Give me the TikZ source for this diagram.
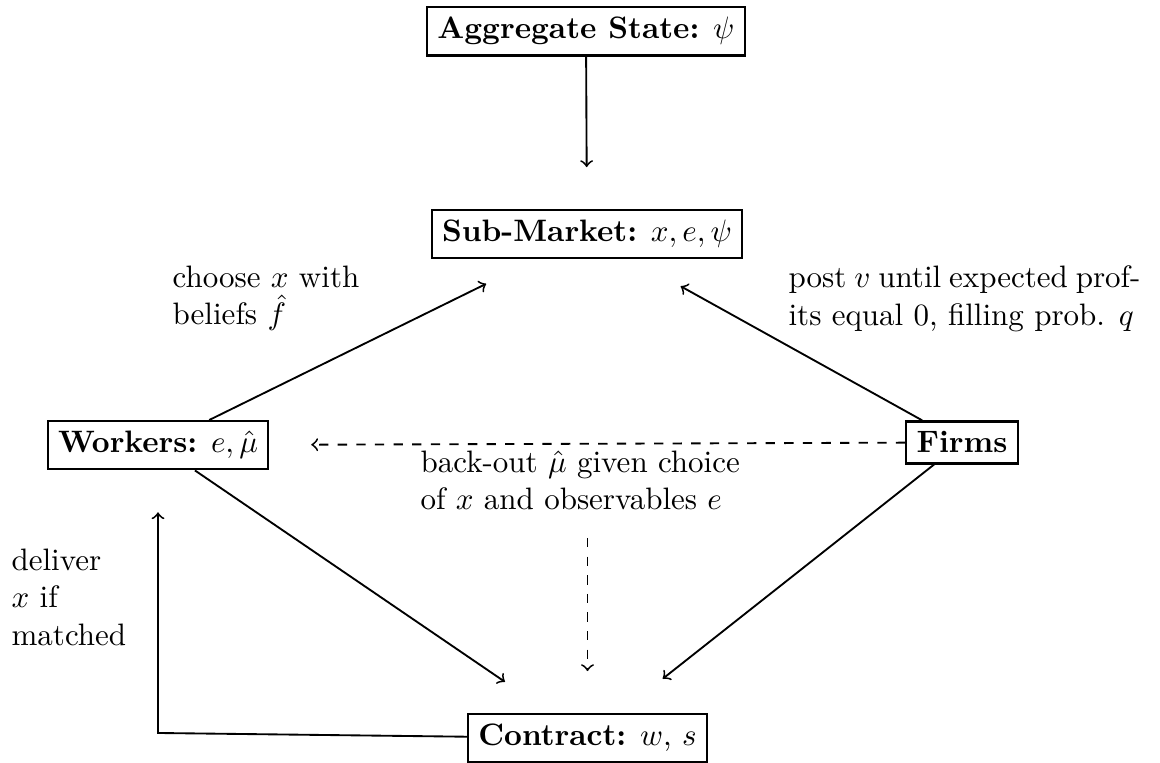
\documentclass[tikz,border=0pt]{standalone}
\begin{document}
\begin{tikzpicture}[x=0.3225pt,y=-0.3225pt,
  box/.style={draw,line width=0.7pt,inner sep=3.33pt,anchor=base},
  lbl/.style={inner sep=0pt,align=left,anchor=north west},
  arr/.style={->,line width=0.6pt},
  sh/.style={shorten >=13.5pt},
  shd/.style={shorten >=17.8pt}]
\useasboundingbox (0,0) rectangle (1160,763);
% nodes
\node[box] (agg) at (586,39) {\textbf{Aggregate State:} $\psi$};
\node[box] (sub) at (587,242) {\textbf{Sub-Market:} $x, e, \psi$};
\node[box] (wrk) at (158,453) {\textbf{Workers:} $e, \hat\mu$};
\node[box] (frm) at (962,453) {\textbf{Firms}};
\node[box] (con) at (587.5,746) {\textbf{Contract:} $w$, $s$};
% labels
\node[lbl] (lw) at (172,265.5) {choose $x$ with\\beliefs $\hat f$};
\node[lbl,text width=113.5pt,align=justify] (lf) at (788,265.5) {post $v$ until expected prof-\linebreak its equal 0, filling prob. $q$};
\node[lbl] (lb) at (420,450.5) {back-out $\hat\mu$ given choice\\of $x$ and observables $e$};
\node[lbl] (ld) at (11,548.5) {deliver\\$x$ if\\matched};
% helper coordinates
\coordinate (d) at (587.5,538);
\coordinate (p) at (158,733);
% connectors
\draw[arr,sh] (agg) -- (sub);
\draw[arr,shd] (wrk) -- (sub);
\draw[arr,shd] (frm) -- (sub);
\draw[arr,shd] (wrk) -- (con);
\draw[arr,shd] (frm) -- (con);
\draw[arr,sh,dashed] (frm) -- (wrk);
\draw[arr,sh,dashed] (d) -- (con);
\draw[arr,sh] (con) -- (p) -- (wrk);
\end{tikzpicture}
\end{document}
